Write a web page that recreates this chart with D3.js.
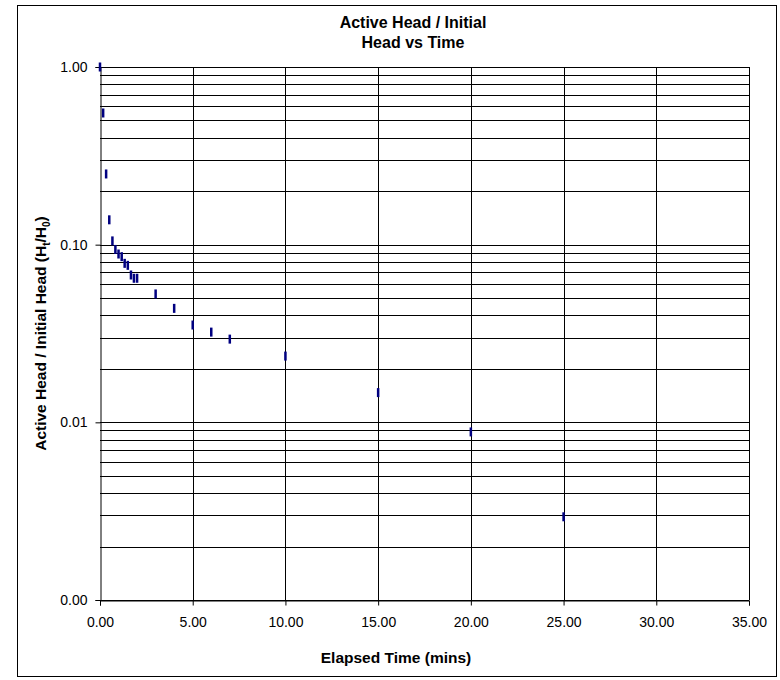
<!DOCTYPE html>
<html>
<head>
    <meta charset="utf-8">
    <style>
        html, body { padding: 0; margin: 0; background: #fff; }
        svg { display: block; font-family: "Liberation Sans", Arial, sans-serif; }
    </style>
</head>
<body>
    <div id="chart"></div>
    <script src="https://cdn.jsdelivr.net/npm/d3@7/dist/d3.min.js"></script>
    <script>
        // Elapsed time (mins) and Ht/H0
        const times = [0, 0.17, 0.33, 0.5, 0.67, 0.83, 1, 1.17, 1.33, 1.5, 1.67, 1.83, 2, 3, 4, 5, 6, 7, 10, 15, 20, 25];
        const ratios = [1.00, 0.551, 0.25, 0.138, 0.105, 0.094, 0.0886, 0.0856, 0.0785, 0.0765, 0.0675, 0.0647, 0.0647,
                        0.0528, 0.0438, 0.0353, 0.0322, 0.0294, 0.0236, 0.0147, 0.00883, 0.00294];
        const xTicks = [0, 5, 10, 15, 20, 25, 30, 35];
        const yTicks = [1, 0.1, 0.01, 0.001];
        const titleLines = ["Active Head / Initial", "Head vs Time"];

        const width = 780, height = 680;
        const m = { left: 100, right: 749, top: 67, bottom: 600 };
        const font = '"Liberation Sans", Arial, sans-serif';

        const svg = d3.select('#chart').append('svg')
            .attr('width', width)
            .attr('height', height);

        // outer chart frame
        svg.append('rect')
            .attr('x', 17.5).attr('y', 5.5)
            .attr('width', 759).attr('height', 671)
            .attr('fill', 'none').attr('stroke', '#000').attr('stroke-width', 1);

        const x = d3.scaleLinear().domain([0, 35]).range([m.left, m.right]);
        const y = d3.scaleLog().domain([0.001, 1]).range([m.bottom, m.top]);

        // minor + major horizontal gridlines (1..9 per decade)
        const gridY = [];
        [0.001, 0.01, 0.1].forEach(d => { for (let k = 1; k <= 9; k++) gridY.push(d * k); });
        gridY.push(1);

        svg.append('g')
            .selectAll('line')
            .data(gridY)
            .join('line')
            .attr('x1', m.left).attr('x2', m.right)
            .attr('y1', d => Math.round(y(d)) + 0.5)
            .attr('y2', d => Math.round(y(d)) + 0.5)
            .attr('stroke', '#000').attr('stroke-width', 1);

        svg.append('g')
            .selectAll('line')
            .data(xTicks.slice(1))
            .join('line')
            .attr('x1', d => Math.round(x(d)) + 0.5)
            .attr('x2', d => Math.round(x(d)) + 0.5)
            .attr('y1', m.top).attr('y2', m.bottom)
            .attr('stroke', '#000').attr('stroke-width', 1);

        // axes
        const xAxis = d3.axisBottom(x).tickValues(xTicks).tickFormat(d3.format('.2f')).tickSize(5).tickPadding(12);
        const yAxis = d3.axisLeft(y).tickValues(yTicks).tickFormat(d3.format('.2f')).tickSize(5).tickPadding(8);

        svg.append('g')
            .attr('transform', `translate(0,${m.bottom + 0.5})`)
            .call(xAxis)
            .call(g => g.selectAll('text').attr('font-size', 14).attr('fill', '#000').attr('font-family', font))
            .call(g => g.selectAll('line, path').attr('stroke', '#000'));

        svg.append('g')
            .attr('transform', `translate(${m.left + 0.5},0)`)
            .call(yAxis)
            .call(g => g.selectAll('text').attr('font-size', 14).attr('fill', '#000').attr('font-family', font))
            .call(g => g.selectAll('line, path').attr('stroke', '#000'));

        // plot border (top + right)
        svg.append('path')
            .attr('d', `M${m.left},${m.top + 0.5}H${m.right + 0.5}V${m.bottom}`)
            .attr('fill', 'none').attr('stroke', '#000');

        // data markers: short vertical dashes
        svg.append('g')
            .selectAll('rect')
            .data(times.map((t, i) => ({ t, v: ratios[i] })))
            .join('rect')
            .attr('x', d => x(d.t) - 1.25)
            .attr('y', d => y(d.v) - 4.5)
            .attr('width', 2.5)
            .attr('height', 9)
            .attr('fill', '#000080');

        // title
        svg.append('text')
            .attr('x', 413).attr('y', 28)
            .attr('text-anchor', 'middle')
            .attr('font-size', 16).attr('font-weight', 'bold')
            .selectAll('tspan')
            .data(titleLines)
            .join('tspan')
            .attr('x', 413)
            .attr('dy', (d, i) => i ? 20 : 0)
            .text(d => d);

        // x label
        svg.append('text')
            .attr('x', 396).attr('y', 663)
            .attr('text-anchor', 'middle')
            .attr('font-size', 15.5).attr('font-weight', 'bold')
            .text('Elapsed Time (mins)');

        // y label with subscripts
        const yl = svg.append('text')
            .attr('transform', `translate(46,${(m.top + m.bottom) / 2}) rotate(-90)`)
            .attr('text-anchor', 'middle')
            .attr('font-size', 15.5).attr('font-weight', 'bold');
        yl.append('tspan').text('Active Head / Initial Head (H');
        yl.append('tspan').attr('font-size', 10).attr('dy', 4).text('t');
        yl.append('tspan').attr('dy', -4).text('/H');
        yl.append('tspan').attr('font-size', 10).attr('dy', 4).text('0');
        yl.append('tspan').attr('dy', -4).text(')');
    </script>
</body>
</html>
